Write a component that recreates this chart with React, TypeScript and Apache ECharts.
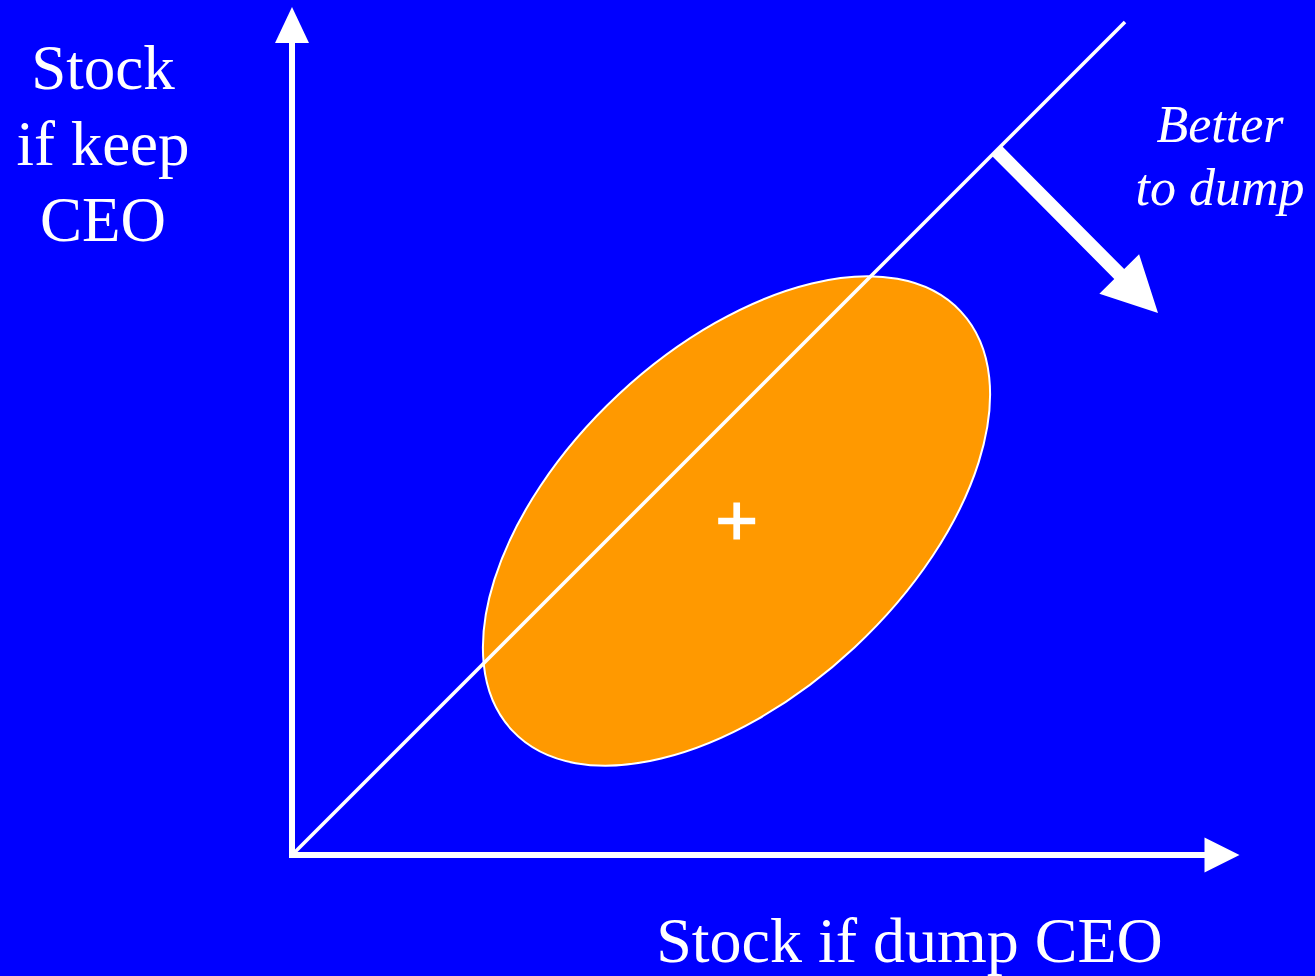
import React, { useEffect, useRef } from "react";
import * as echarts from "echarts";

// Data-space coordinates (1 unit ≈ 1 px of the reference)
const xRange = [0, 930];
const yRange = [0, 830];
const diagonal = [
  [0, 0],
  [833, 833],
];
// [cx, cy, semiMajor, semiMinor, angleDeg]
const ellipseData = [[444.5, 334, 307, 173, 43]];
const centerMark = [[444.7, 334]];
// [x0, y0, x1, y1]
const dumpArrow = [[705, 704, 866, 542]];

const yLabelLines = ["Stock", "if keep", "CEO"];
const xLabel = "Stock if dump CEO";
const arrowLabelLines = ["Better", "to dump"];

const FONT = "'Liberation Serif', 'Times New Roman', serif";

export default function App() {
  const ref = useRef<HTMLDivElement>(null);

  useEffect(() => {
    if (!ref.current) return;
    const chart = echarts.init(ref.current, null, { renderer: "svg" });
    const option: any = {
      animation: false,
      backgroundColor: "#0000FF",
      grid: { left: 292, top: 25, right: 93, bottom: 121 },
      xAxis: {
        type: "value",
        min: xRange[0],
        max: xRange[1],
        axisLine: {
          show: true,
          onZero: false,
          symbol: ["none", "triangle"],
          symbolSize: [35, 35],
          lineStyle: { color: "#FFFFFF", width: 6, cap: "square" },
        },
        axisTick: { show: false },
        axisLabel: { show: false },
        splitLine: { show: false },
      },
      yAxis: {
        type: "value",
        min: yRange[0],
        max: yRange[1],
        axisLine: {
          show: true,
          onZero: false,
          symbol: ["none", "triangle"],
          symbolSize: [34, 36],
          lineStyle: { color: "#FFFFFF", width: 6, cap: "square" },
        },
        axisTick: { show: false },
        axisLabel: { show: false },
        splitLine: { show: false },
      },
      series: [
        {
          type: "custom",
          name: "distribution",
          z: 1,
          clip: false,
          data: ellipseData,
          renderItem: (params: any, api: any) => {
            const c = api.coord([api.value(0), api.value(1)]);
            const rx = api.size([api.value(2), 0])[0];
            const ry = api.size([api.value(3), 0])[0];
            const ang = (api.value(4) * Math.PI) / 180;
            return {
              type: "ellipse",
              x: c[0],
              y: c[1],
              rotation: ang,
              shape: { cx: 0, cy: 0, rx, ry },
              style: { fill: "#FF9900", stroke: "#FFFFFF", lineWidth: 2 },
            };
          },
        },
        {
          type: "line",
          name: "diagonal",
          z: 2,
          clip: false,
          data: diagonal,
          symbol: "none",
          lineStyle: { color: "#FFFFFF", width: 3.5 },
        },
        {
          type: "scatter",
          name: "center",
          z: 3,
          data: centerMark,
          symbol: "path://M41,0H59V41H100V59H59V100H41V59H0V41H41Z",
          symbolSize: 37,
          itemStyle: { color: "#FFFFFF", opacity: 1 },
        },
        {
          type: "custom",
          name: "arrow",
          z: 3,
          clip: false,
          data: dumpArrow,
          renderItem: (params: any, api: any) => {
            const p0 = api.coord([api.value(0), api.value(1)]);
            const p1 = api.coord([api.value(2), api.value(3)]);
            const dx = p1[0] - p0[0];
            const dy = p1[1] - p0[1];
            const len = Math.sqrt(dx * dx + dy * dy);
            const ux = dx / len;
            const uy = dy / len;
            const nx = -uy;
            const ny = ux;
            const shaftW = 7;
            const headW = 28;
            const headL = 55;
            const bx = p1[0] - ux * headL;
            const by = p1[1] - uy * headL;
            const pts = [
              [p0[0] + nx * shaftW, p0[1] + ny * shaftW],
              [bx + nx * shaftW, by + ny * shaftW],
              [bx + nx * headW, by + ny * headW],
              [p1[0], p1[1]],
              [bx - nx * headW, by - ny * headW],
              [bx - nx * shaftW, by - ny * shaftW],
              [p0[0] - nx * shaftW, p0[1] - ny * shaftW],
            ];
            return {
              type: "polygon",
              shape: { points: pts },
              style: { fill: "#FFFFFF" },
            };
          },
        },
      ],
      graphic: [
        {
          type: "text",
          x: 103,
          y: 143.5,
          style: {
            text: yLabelLines.join("\n"),
            fill: "#FFFFFF",
            font: `63px ${FONT}`,
            lineHeight: 76,
            align: "center",
            verticalAlign: "middle",
          },
        },
        {
          type: "text",
          x: 909.5,
          y: 940,
          style: {
            text: xLabel,
            fill: "#FFFFFF",
            font: `64px ${FONT}`,
            align: "center",
            verticalAlign: "middle",
          },
        },
        {
          type: "text",
          x: 1220,
          y: 156,
          style: {
            text: arrowLabelLines.join("\n"),
            fill: "#FFFFFF",
            font: `italic 52px ${FONT}`,
            lineHeight: 63,
            align: "center",
            verticalAlign: "middle",
          },
        },
      ],
    };
    chart.setOption(option);
    return () => chart.dispose();
  }, []);

  return (
    <div
      ref={ref}
      style={{ position: "absolute", left: 0, top: 0, width: 1315, height: 976 }}
    />
  );
}
